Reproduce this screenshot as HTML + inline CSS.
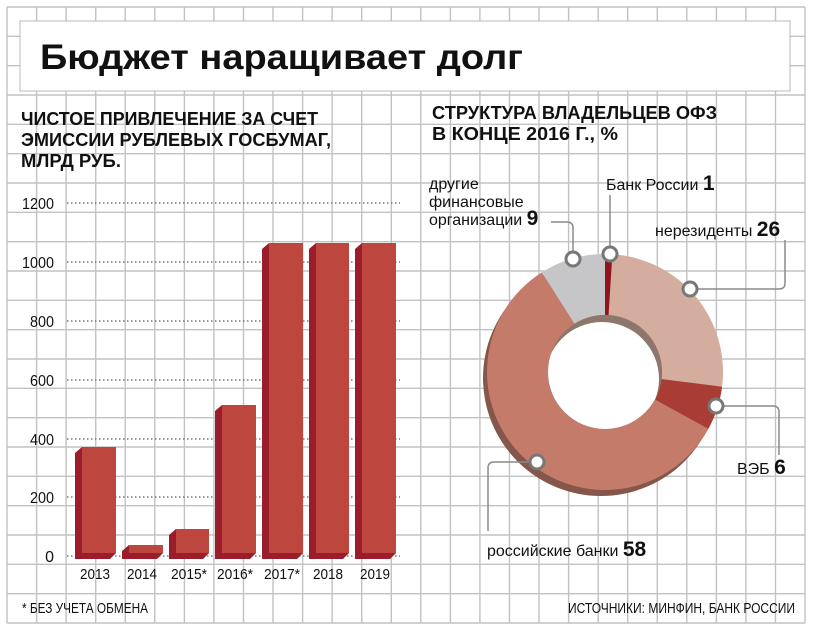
<!DOCTYPE html>
<html><head><meta charset="utf-8"><style>
html,body{margin:0;padding:0;background:#fff;}
svg{display:block;}
text{font-family:"Liberation Sans",sans-serif;fill:#111;}
</style></head><body>
<svg width="814" height="632" viewBox="0 0 814 632" xmlns="http://www.w3.org/2000/svg">
<rect width="814" height="632" fill="#fff"/>
<g stroke="#c2c2c2" stroke-width="1.4">
<line x1="7" y1="7" x2="7" y2="623"/><line x1="36.6" y1="7" x2="36.6" y2="623"/><line x1="66.1" y1="7" x2="66.1" y2="623"/><line x1="95.7" y1="7" x2="95.7" y2="623"/><line x1="125.2" y1="7" x2="125.2" y2="623"/><line x1="154.8" y1="7" x2="154.8" y2="623"/><line x1="184.4" y1="7" x2="184.4" y2="623"/><line x1="213.9" y1="7" x2="213.9" y2="623"/><line x1="243.5" y1="7" x2="243.5" y2="623"/><line x1="273" y1="7" x2="273" y2="623"/><line x1="302.6" y1="7" x2="302.6" y2="623"/><line x1="332.1" y1="7" x2="332.1" y2="623"/><line x1="361.7" y1="7" x2="361.7" y2="623"/><line x1="391.3" y1="7" x2="391.3" y2="623"/><line x1="420.8" y1="7" x2="420.8" y2="623"/><line x1="450.4" y1="7" x2="450.4" y2="623"/><line x1="479.9" y1="7" x2="479.9" y2="623"/><line x1="509.5" y1="7" x2="509.5" y2="623"/><line x1="539" y1="7" x2="539" y2="623"/><line x1="568.6" y1="7" x2="568.6" y2="623"/><line x1="598.2" y1="7" x2="598.2" y2="623"/><line x1="627.7" y1="7" x2="627.7" y2="623"/><line x1="657.3" y1="7" x2="657.3" y2="623"/><line x1="686.8" y1="7" x2="686.8" y2="623"/><line x1="716.4" y1="7" x2="716.4" y2="623"/><line x1="745.9" y1="7" x2="745.9" y2="623"/><line x1="775.5" y1="7" x2="775.5" y2="623"/><line x1="805" y1="7" x2="805" y2="623"/>
<line x1="7" y1="7" x2="805" y2="7"/><line x1="7" y1="36.3" x2="805" y2="36.3"/><line x1="7" y1="65.7" x2="805" y2="65.7"/><line x1="7" y1="95" x2="805" y2="95"/><line x1="7" y1="124.3" x2="805" y2="124.3"/><line x1="7" y1="153.7" x2="805" y2="153.7"/><line x1="7" y1="183" x2="805" y2="183"/><line x1="7" y1="212.3" x2="805" y2="212.3"/><line x1="7" y1="241.7" x2="805" y2="241.7"/><line x1="7" y1="271" x2="805" y2="271"/><line x1="7" y1="300.3" x2="805" y2="300.3"/><line x1="7" y1="329.7" x2="805" y2="329.7"/><line x1="7" y1="359" x2="805" y2="359"/><line x1="7" y1="388.3" x2="805" y2="388.3"/><line x1="7" y1="417.7" x2="805" y2="417.7"/><line x1="7" y1="447" x2="805" y2="447"/><line x1="7" y1="476.3" x2="805" y2="476.3"/><line x1="7" y1="505.7" x2="805" y2="505.7"/><line x1="7" y1="535" x2="805" y2="535"/><line x1="7" y1="564.3" x2="805" y2="564.3"/><line x1="7" y1="593.7" x2="805" y2="593.7"/><line x1="7" y1="623" x2="805" y2="623"/>
</g>
<rect x="20" y="21" width="770" height="70" fill="#fff" stroke="#b8b8b8" stroke-width="1"/>
<text x="40" y="69" font-size="35" font-weight="bold" textLength="483" lengthAdjust="spacingAndGlyphs">Бюджет наращивает долг</text>

<g font-size="18" font-weight="bold">
<text x="21" y="125" textLength="297" lengthAdjust="spacingAndGlyphs">ЧИСТОЕ ПРИВЛЕЧЕНИЕ ЗА СЧЕТ</text>
<text x="21" y="146" textLength="310" lengthAdjust="spacingAndGlyphs">ЭМИССИИ РУБЛЕВЫХ ГОСБУМАГ,</text>
<text x="21" y="167" textLength="100" lengthAdjust="spacingAndGlyphs">МЛРД РУБ.</text>
<text x="432" y="119" textLength="285" lengthAdjust="spacingAndGlyphs">СТРУКТУРА ВЛАДЕЛЬЦЕВ ОФЗ</text>
<text x="432" y="140" textLength="186" lengthAdjust="spacingAndGlyphs">В КОНЦЕ 2016 Г., %</text>
</g>

<g stroke="#777" stroke-width="1.6" stroke-dasharray="1.5 2.5">
<line x1="67" y1="203" x2="400" y2="203"/><line x1="67" y1="262" x2="400" y2="262"/><line x1="67" y1="321" x2="400" y2="321"/><line x1="67" y1="380" x2="400" y2="380"/><line x1="67" y1="439" x2="400" y2="439"/><line x1="67" y1="497" x2="400" y2="497"/><line x1="67" y1="556" x2="400" y2="556"/>
</g>
<g font-size="16" text-anchor="end">
<text x="54" y="209" textLength="32" lengthAdjust="spacingAndGlyphs">1200</text>
<text x="54" y="268" textLength="32" lengthAdjust="spacingAndGlyphs">1000</text>
<text x="54" y="327" textLength="24" lengthAdjust="spacingAndGlyphs">800</text><text x="54" y="386" textLength="24" lengthAdjust="spacingAndGlyphs">600</text><text x="54" y="445" textLength="24" lengthAdjust="spacingAndGlyphs">400</text><text x="54" y="503" textLength="24" lengthAdjust="spacingAndGlyphs">200</text><text x="54" y="562">0</text>
</g>
<g fill="#9b1c2a">
<polygon points="75,453 82,447 82,553 116,553 110,559 75,559"/>
<polygon points="122,551 129,545 129,553 163,553 157,559 122,559"/>
<polygon points="169,535 176,529 176,553 209,553 203,559 169,559"/>
<polygon points="215,411 222,405 222,553 256,553 250,559 215,559"/>
<polygon points="262,249 269,243 269,553 303,553 297,559 262,559"/>
<polygon points="309,249 316,243 316,553 349,553 343,559 309,559"/>
<polygon points="355,249 362,243 362,553 396,553 390,559 355,559"/>
</g>
<g fill="#bd463e">
<rect x="82" y="447" width="34" height="106"/>
<rect x="129" y="545" width="34" height="8"/>
<rect x="176" y="529" width="33" height="24"/>
<rect x="222" y="405" width="34" height="148"/>
<rect x="269" y="243" width="34" height="310"/>
<rect x="316" y="243" width="33" height="310"/>
<rect x="362" y="243" width="34" height="310"/>
</g>
<g font-size="15" text-anchor="middle">
<text x="95" y="579" textLength="30" lengthAdjust="spacingAndGlyphs">2013</text><text x="142" y="579" textLength="30" lengthAdjust="spacingAndGlyphs">2014</text><text x="189" y="579" textLength="36" lengthAdjust="spacingAndGlyphs">2015*</text><text x="235" y="579" textLength="36" lengthAdjust="spacingAndGlyphs">2016*</text><text x="282" y="579" textLength="36" lengthAdjust="spacingAndGlyphs">2017*</text><text x="328" y="579" textLength="30" lengthAdjust="spacingAndGlyphs">2018</text><text x="375" y="579" textLength="30" lengthAdjust="spacingAndGlyphs">2019</text>
</g>
<text x="22" y="613" font-size="15" textLength="126" lengthAdjust="spacingAndGlyphs">* БЕЗ УЧЕТА ОБМЕНА</text>
<text x="568" y="613" font-size="15" textLength="227" lengthAdjust="spacingAndGlyphs">ИСТОЧНИКИ: МИНФИН, БАНК РОССИИ</text>

<circle cx="601" cy="378" r="118" fill="#84574a"/>
<path d="M605,254 A118,118 0 0 1 612.41,254.24 L608.58,315.11 A57,57 0 0 0 605,315 Z" fill="#8f1521"/>
<path d="M612.41,254.24 A118,118 0 0 1 722.07,386.79 L661.55,379.14 A57,57 0 0 0 608.58,315.11 Z" fill="#d5ad9e"/>
<path d="M722.07,386.79 A118,118 0 0 1 708.40,428.85 L654.95,399.46 A57,57 0 0 0 661.55,379.14 Z" fill="#a93d35"/>
<path d="M708.40,428.85 A118,118 0 1 1 541.78,272.37 L574.46,323.88 A57,57 0 1 0 654.95,399.46 Z" fill="#c47b6a"/>
<path d="M541.78,272.37 A118,118 0 0 1 605,254 L605,315 A57,57 0 0 0 574.46,323.88 Z" fill="#c6c6c8"/>
<defs><clipPath id="h"><circle cx="605" cy="372" r="57"/></clipPath></defs>
<circle cx="605" cy="372" r="57" fill="#8d766b"/>
<circle cx="602" cy="379" r="57" fill="#fff" clip-path="url(#h)"/>

<g fill="none" stroke="#8a8a8a" stroke-width="1.5">
<path d="M573,259 V228 Q573,222 567,222 H551"/>
<path d="M610,254 V195"/>
<path d="M690,289 H779 Q785,289 785,283 V240"/>
<path d="M716,406 H773 Q779,406 779,412 V455"/>
<path d="M537,462 H494 Q488,462 488,468 V531"/>
</g>
<g fill="#fff" stroke="#777" stroke-width="3">
<circle cx="573" cy="259" r="7"/><circle cx="610" cy="254" r="7"/><circle cx="690" cy="289" r="7"/><circle cx="716" cy="406" r="7"/><circle cx="537" cy="462" r="7"/>
</g>
<g font-size="16">
<text x="429" y="189">другие</text>
<text x="429" y="207">финансовые</text>
<text x="429" y="225">организации <tspan font-size="21" font-weight="bold">9</tspan></text>
<text x="606" y="190">Банк России <tspan font-size="21" font-weight="bold">1</tspan></text>
<text x="655" y="236">нерезиденты <tspan font-size="21" font-weight="bold">26</tspan></text>
<text x="737" y="474">ВЭБ <tspan font-size="21" font-weight="bold">6</tspan></text>
<text x="487" y="556">российские банки <tspan font-size="21" font-weight="bold">58</tspan></text>
</g>
</svg>
</body></html>
